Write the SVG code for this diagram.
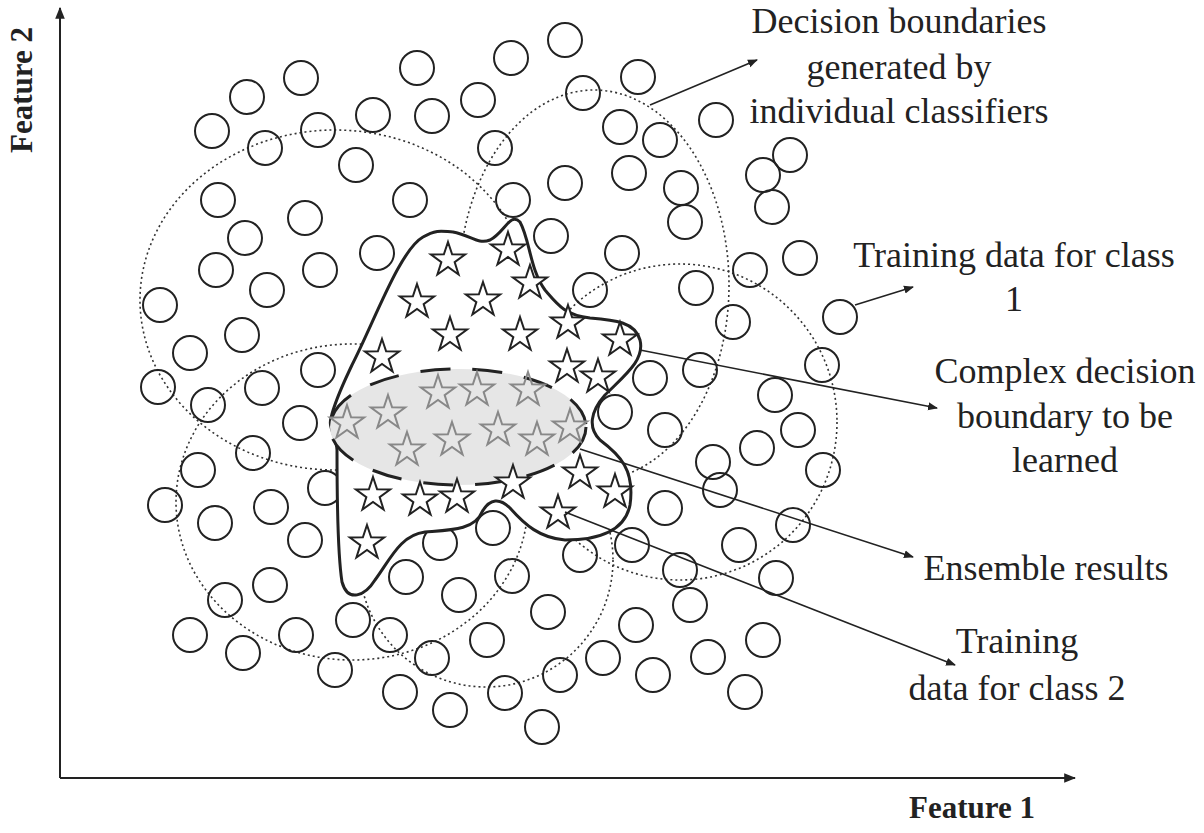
<svg xmlns="http://www.w3.org/2000/svg" xmlns:xlink="http://www.w3.org/1999/xlink" width="1204" height="833" viewBox="0 0 1204 833">
<style>
.c{fill:none;stroke:#222;stroke-width:2}
.d{fill:none;stroke:#333;stroke-width:1.6;stroke-dasharray:2 3}
.s{fill:#fff;stroke:#222;stroke-width:2}
.g{fill:none;stroke:#888;stroke-width:2}
.l{stroke:#222;stroke-width:1.6;fill:none;marker-end:url(#a)}
text{font-family:"Liberation Serif",serif;font-size:36px;fill:#222;text-anchor:middle}
.b{font-weight:bold;font-size:31px}
</style>
<defs>
<marker id="a" viewBox="0 0 10 10" refX="9" refY="5" markerWidth="10" markerHeight="10" markerUnits="userSpaceOnUse" orient="auto"><path d="M0,1 L10,5 L0,9 Z" fill="#222"/></marker>
<marker id="ax" viewBox="0 0 10 10" refX="9" refY="5" markerWidth="12" markerHeight="12" markerUnits="userSpaceOnUse" orient="auto"><path d="M0,1 L10,5 L0,9 Z" fill="#222"/></marker>
<polygon id="st" points="0,-18 4.11,-5.66 17.12,-5.56 6.66,2.16 10.58,14.56 0,7 -10.58,14.56 -6.66,2.16 -17.12,-5.56 -4.11,-5.66"/>
</defs>
<rect width="1204" height="833" fill="#fff"/>
<g id="axes">
<line x1="60" y1="778" x2="60" y2="8" stroke="#222" stroke-width="2" marker-end="url(#ax)"/>
<line x1="60" y1="778" x2="1075" y2="778" stroke="#222" stroke-width="2" marker-end="url(#ax)"/>
<text class="b" x="972" y="818">Feature 1</text>
<text class="b" transform="translate(32,90) rotate(-90)">Feature 2</text>
</g>
<g id="boundaries">
<ellipse class="d" cx="335" cy="300" rx="195" ry="170"/>
<ellipse class="d" cx="594" cy="285" rx="135" ry="195"/>
<ellipse class="d" cx="680" cy="422" rx="157" ry="158"/>
<ellipse class="d" cx="352" cy="502" rx="176" ry="158"/>
<ellipse class="d" cx="486" cy="560" rx="127" ry="127"/>
</g>
<g id="class2">
<g class="c">
<circle cx="565" cy="40" r="17"/><circle cx="511" cy="58" r="17"/><circle cx="417" cy="68" r="17"/><circle cx="638" cy="77" r="17"/><circle cx="301" cy="78" r="17"/><circle cx="247" cy="97" r="17"/><circle cx="478" cy="100" r="17"/><circle cx="583" cy="93" r="17"/><circle cx="373" cy="115" r="17"/><circle cx="432" cy="116" r="17"/><circle cx="716" cy="120" r="17"/><circle cx="212" cy="131" r="17"/><circle cx="318" cy="130" r="17"/><circle cx="620" cy="127" r="17"/><circle cx="660" cy="140" r="17"/><circle cx="265" cy="148" r="17"/><circle cx="495" cy="148" r="17"/><circle cx="790" cy="155" r="17"/><circle cx="356" cy="165" r="17"/><circle cx="629" cy="173" r="17"/><circle cx="763" cy="175" r="17"/><circle cx="681" cy="188" r="17"/><circle cx="218" cy="200" r="17"/><circle cx="410" cy="200" r="17"/><circle cx="513" cy="200" r="17"/><circle cx="565" cy="183" r="17"/><circle cx="772" cy="207" r="17"/><circle cx="305" cy="218" r="17"/><circle cx="685" cy="222" r="17"/><circle cx="245" cy="238" r="17"/><circle cx="551" cy="236" r="17"/><circle cx="622" cy="253" r="17"/><circle cx="377" cy="253" r="17"/><circle cx="800" cy="258" r="17"/><circle cx="216" cy="270" r="17"/><circle cx="320" cy="270" r="17"/><circle cx="750" cy="270" r="17"/><circle cx="267" cy="290" r="17"/><circle cx="590" cy="290" r="17"/><circle cx="696" cy="288" r="17"/><circle cx="160" cy="305" r="17"/><circle cx="840" cy="317" r="17"/><circle cx="733" cy="322" r="17"/><circle cx="242" cy="335" r="17"/><circle cx="190" cy="353" r="17"/><circle cx="318" cy="370" r="17"/><circle cx="822" cy="365" r="17"/><circle cx="650" cy="378" r="17"/><circle cx="700" cy="370" r="17"/><circle cx="158" cy="387" r="17"/><circle cx="262" cy="388" r="17"/><circle cx="775" cy="395" r="17"/><circle cx="208" cy="405" r="17"/><circle cx="300" cy="423" r="17"/><circle cx="615" cy="412" r="17"/><circle cx="798" cy="430" r="17"/><circle cx="665" cy="430" r="17"/><circle cx="757" cy="448" r="17"/><circle cx="253" cy="453" r="17"/><circle cx="198" cy="470" r="17"/><circle cx="713" cy="462" r="17"/><circle cx="823" cy="470" r="17"/><circle cx="325" cy="488" r="17"/><circle cx="165" cy="505" r="17"/><circle cx="271" cy="507" r="17"/><circle cx="665" cy="508" r="17"/><circle cx="720" cy="490" r="17"/><circle cx="215" cy="523" r="17"/><circle cx="793" cy="525" r="17"/><circle cx="305" cy="540" r="17"/><circle cx="440" cy="543" r="17"/><circle cx="739" cy="545" r="17"/><circle cx="632" cy="545" r="17"/><circle cx="493" cy="528" r="17"/><circle cx="580" cy="555" r="17"/><circle cx="270" cy="585" r="17"/><circle cx="406" cy="577" r="17"/><circle cx="512" cy="576" r="17"/><circle cx="680" cy="570" r="17"/><circle cx="776" cy="578" r="17"/><circle cx="459" cy="595" r="17"/><circle cx="225" cy="600" r="17"/><circle cx="548" cy="612" r="17"/><circle cx="353" cy="620" r="17"/><circle cx="690" cy="605" r="17"/><circle cx="190" cy="635" r="17"/><circle cx="296" cy="635" r="17"/><circle cx="390" cy="635" r="17"/><circle cx="636" cy="625" r="17"/><circle cx="487" cy="640" r="17"/><circle cx="432" cy="658" r="17"/><circle cx="243" cy="653" r="17"/><circle cx="763" cy="640" r="17"/><circle cx="603" cy="658" r="17"/><circle cx="335" cy="670" r="17"/><circle cx="708" cy="657" r="17"/><circle cx="560" cy="675" r="17"/><circle cx="653" cy="675" r="17"/><circle cx="400" cy="692" r="17"/><circle cx="505" cy="693" r="17"/><circle cx="450" cy="710" r="17"/><circle cx="745" cy="692" r="17"/><circle cx="542" cy="727" r="17"/>
</g>
</g>
<g id="class1">
<path d="M331,418 C335,400 345,380 352,365 C375,320 400,250 423,237 C438,228 445,232 453,232 C470,235 478,245 490,240 C505,232 510,212 520,222 C530,240 530,270 545,290 C558,305 565,315 590,318 C615,320 635,322 640,340 C645,360 625,375 605,395 C590,412 588,428 600,440 C620,455 635,470 630,505 C625,530 600,540 565,540 C540,538 525,525 510,508 C500,498 490,498 482,512 C475,530 450,530 425,532 C400,535 390,560 375,580 C365,596 348,603 342,582 C337,550 337,480 337,450 C336,435 328,428 331,418 Z" fill="#fff" stroke="#222" stroke-width="3"/>
<ellipse cx="458" cy="427" rx="128" ry="58" fill="#e6e6e6"/>
<ellipse cx="458" cy="427" rx="128" ry="58" fill="none" stroke="#222" stroke-width="3" stroke-dasharray="30 22"/>
<g class="s">
<use href="#st" x="448" y="260"/><use href="#st" x="508" y="250"/><use href="#st" x="530" y="283"/><use href="#st" x="417" y="302"/><use href="#st" x="483" y="300"/><use href="#st" x="450" y="335"/><use href="#st" x="520" y="335"/><use href="#st" x="568" y="323"/><use href="#st" x="620" y="340"/><use href="#st" x="382" y="357"/><use href="#st" x="567" y="367"/><use href="#st" x="598" y="377"/>
<use href="#st" x="580" y="473"/><use href="#st" x="615" y="492"/><use href="#st" x="373" y="495"/><use href="#st" x="420" y="500"/><use href="#st" x="457" y="497"/><use href="#st" x="513" y="483"/><use href="#st" x="558" y="513"/><use href="#st" x="367" y="543"/>
</g>
<g class="g">
<use href="#st" x="347" y="423"/><use href="#st" x="388" y="413"/><use href="#st" x="438" y="393"/><use href="#st" x="477" y="390"/><use href="#st" x="528" y="390"/><use href="#st" x="407" y="450"/><use href="#st" x="452" y="440"/><use href="#st" x="498" y="430"/><use href="#st" x="537" y="440"/><use href="#st" x="570" y="427"/>
</g>
</g>
<g id="connectors">
<line class="l" x1="650" y1="105" x2="757" y2="60"/>
<line class="l" x1="855" y1="305" x2="913" y2="287"/>
<line class="l" x1="640" y1="350" x2="937" y2="408"/>
<line class="l" x1="580" y1="449" x2="913" y2="557"/>
<line class="l" x1="565" y1="512" x2="955" y2="665"/>
</g>
<g id="labels">
<text x="899" y="33">Decision boundaries</text>
<text x="899" y="79">generated by</text>
<text x="899" y="123">individual classifiers</text>
<text x="1014" y="267">Training data for class</text>
<text x="1014" y="311">1</text>
<text x="1065" y="383">Complex decision</text>
<text x="1065" y="428">boundary to be</text>
<text x="1065" y="472">learned</text>
<text x="1046" y="580">Ensemble results</text>
<text x="1017" y="653">Training</text>
<text x="1017" y="700">data for class 2</text>
</g>
</svg>
